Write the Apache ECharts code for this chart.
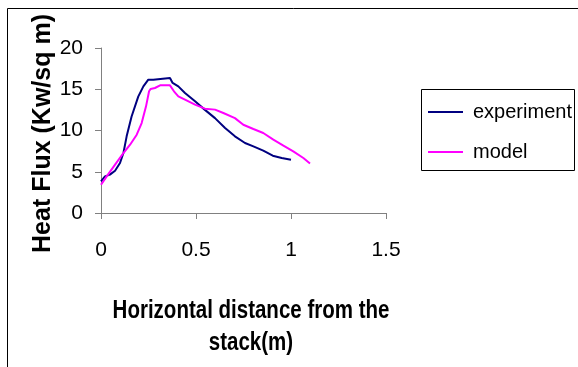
<!DOCTYPE html>
<html>
<head>
<meta charset="utf-8">
<script src="https://cdn.jsdelivr.net/npm/echarts@6/dist/echarts.min.js"></script>
<style>
  html, body { margin: 0; padding: 0; background: #fff; }
  #chart { width: 578px; height: 367px; }
</style>
</head>
<body>
<div id="chart"></div>
<script>
// values
const expX = [0, 0.021, 0.047, 0.074, 0.1, 0.118, 0.135, 0.161, 0.196, 0.223, 0.249, 0.275, 0.28, 0.363, 0.377, 0.407, 0.442, 0.495, 0.547, 0.6, 0.653, 0.705, 0.758, 0.802, 0.854, 0.904, 0.951, 1.0];
const expY = [3.84, 4.44, 4.65, 5.13, 6.06, 7.27, 9.29, 11.7, 14.1, 15.35, 16.16, 16.16, 16.36, 16.36, 15.76, 15.35, 14.55, 13.54, 12.5, 11.5, 10.3, 9.29, 8.48, 8.08, 7.56, 6.95, 6.67, 6.46];
const modX = [0, 0.03, 0.074, 0.118, 0.153, 0.188, 0.214, 0.237, 0.253, 0.261, 0.284, 0.293, 0.311, 0.363, 0.384, 0.407, 0.442, 0.495, 0.547, 0.6, 0.644, 0.705, 0.749, 0.802, 0.854, 0.907, 0.96, 1.012, 1.065, 1.1];
const modY = [3.43, 4.44, 5.86, 7.27, 8.28, 9.49, 10.9, 12.93, 14.75, 15.03, 15.15, 15.35, 15.47, 15.47, 14.75, 14.14, 13.74, 13.13, 12.65, 12.53, 12.12, 11.5, 10.7, 10.18, 9.7, 8.89, 8.16, 7.47, 6.67, 6.0];
const seriesNames = ["experiment", "model"];

const zip = (xs, ys) => xs.map((x, i) => [x, ys[i]]);
const sans = "'Liberation Sans', Arial, sans-serif";

const chart = echarts.init(document.getElementById("chart"));

chart.setOption({
  animation: false,
  grid: { left: 101, top: 48, width: 285, height: 165 },
  legend: {
    left: 428, top: 102,
    orient: "vertical",
    padding: 0,
    itemGap: 20,
    itemWidth: 35, itemHeight: 2,
    icon: "rect",
    textStyle: { fontFamily: sans, fontSize: 20, lineHeight: 20, color: "#000", padding: [0, 0, 0, 5] },
    data: seriesNames
  },
  xAxis: {
    type: "value", min: 0, max: 1.5, interval: 0.5,
    splitLine: { show: false },
    axisLine: { lineStyle: { color: "#808080", width: 1 } },
    axisTick: { show: true, length: 6, lineStyle: { color: "#808080" } },
    axisLabel: { margin: 27, fontFamily: sans, fontSize: 21, color: "#000" }
  },
  yAxis: {
    type: "value", min: 0, max: 20, interval: 5,
    name: "Heat Flux (Kw/sq m)",
    nameLocation: "middle", nameRotate: 90, nameGap: 42,
    nameTextStyle: { fontFamily: sans, fontWeight: "bold", fontSize: 25, color: "#000", padding: [0, 6, 0, 0] },
    splitLine: { show: false },
    axisLine: { show: true, lineStyle: { color: "#808080", width: 1 } },
    axisTick: { show: true, length: 6, lineStyle: { color: "#808080" } },
    axisLabel: { margin: 18, fontFamily: sans, fontSize: 21, color: "#000" }
  },
  graphic: [
    { type: "rect", shape: { x: 7.5, y: 8.5, width: 700, height: 500 }, style: { fill: null, stroke: "#000", lineWidth: 1 }, silent: true },
    { type: "rect", shape: { x: 421.5, y: 89.5, width: 153, height: 81 }, style: { fill: null, stroke: "#000", lineWidth: 1 }, silent: true },
    { type: "text", x: 251, y: 311, scaleX: 0.82, style: { text: "Horizontal distance from the", align: "center", verticalAlign: "middle", font: "bold 25px " + sans, fill: "#000" } },
    { type: "text", x: 251, y: 343, scaleX: 0.82, style: { text: "stack(m)", align: "center", verticalAlign: "middle", font: "bold 25px " + sans, fill: "#000" } }
  ],
  series: [
    { name: seriesNames[0], type: "line", data: zip(expX, expY), showSymbol: false, smooth: false,
      lineStyle: { color: "#000080", width: 2 }, itemStyle: { color: "#000080" } },
    { name: seriesNames[1], type: "line", data: zip(modX, modY), showSymbol: false, smooth: false,
      lineStyle: { color: "#ff00ff", width: 2 }, itemStyle: { color: "#ff00ff" } }
  ]
});
</script>
</body>
</html>
